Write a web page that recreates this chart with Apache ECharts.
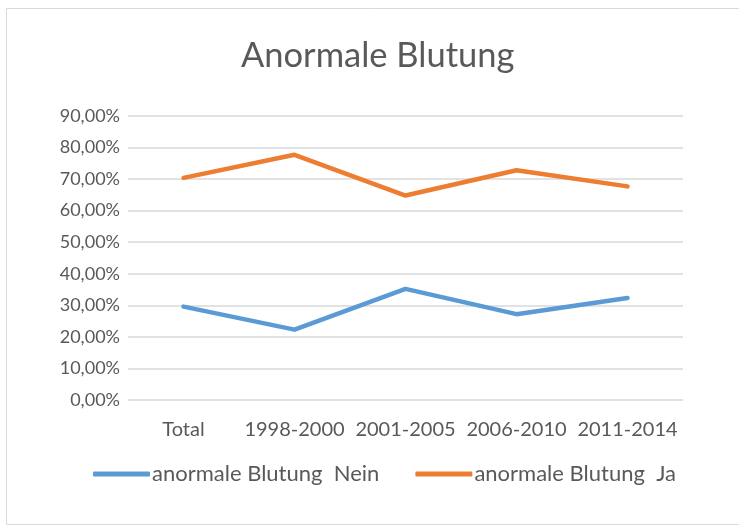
<!DOCTYPE html>
<html>
<head>
<meta charset="utf-8">
<script src="https://cdn.jsdelivr.net/npm/echarts@6/dist/echarts.min.js"></script>
<style>
  html, body { margin: 0; padding: 0; background: #fff; }
  #chart { width: 739px; height: 530px; }
</style>
</head>
<body>
<div id="chart"></div>
<script>
// Daten
var categories = ["Total", "1998-2000", "2001-2005", "2006-2010", "2011-2014"];
var nein = [29.6, 22.3, 35.2, 27.2, 32.3];
var ja = [70.4, 77.7, 64.8, 72.8, 67.7];
var seriesNames = ["anormale Blutung  Nein", "anormale Blutung  Ja"];

var textColor = "#595959";
var font = "Lato, 'Open Sans', sans-serif";

var chart = echarts.init(document.getElementById("chart"));
chart.setOption({
  animation: false,
  color: ["#5B9BD5", "#ED7D31"],
  graphic: [
    {
      type: "rect",
      shape: { x: 6.5, y: 8.5, width: 740, height: 516 },
      style: { fill: "none", stroke: "#d9d9d9", lineWidth: 1 },
    },
  ],
  title: {
    text: "Anormale Blutung",
    left: 236,
    top: 33,
    textStyle: {
      fontFamily: font,
      fontWeight: "normal",
      fontSize: 34.5,
      color: textColor,
    },
  },
  legend: {
    data: seriesNames,
    bottom: 40,
    left: 88,
    icon: "roundRect",
    itemWidth: 57,
    itemHeight: 5,
    itemGap: 36,
    textStyle: { fontFamily: font, fontSize: 22, color: textColor, padding: [0, 0, 0, -3] },
  },
  grid: {
    left: 128,
    right: 56,
    top: 116,
    bottom: 130,
  },
  xAxis: {
    type: "category",
    data: categories,
    boundaryGap: true,
    axisLine: { show: false },
    axisTick: { show: false },
    axisLabel: {
      fontFamily: font,
      fontSize: 20,
      color: textColor,
      margin: 20,
      interval: 0,
    },
  },
  yAxis: {
    type: "value",
    min: 0,
    max: 90,
    interval: 10,
    axisLine: { show: false },
    axisTick: { show: false },
    splitLine: { lineStyle: { color: "#d9d9d9", width: 1.5 } },
    axisLabel: {
      fontFamily: font,
      fontSize: 18,
      color: textColor,
      margin: 8,
      formatter: function (v) {
        return v.toFixed(2).replace(".", ",") + "%";
      },
    },
  },
  series: [
    {
      name: seriesNames[0],
      type: "line",
      data: nein,
      symbol: "none",
      lineStyle: { width: 4.5, cap: "round", join: "round" },
    },
    {
      name: seriesNames[1],
      type: "line",
      data: ja,
      symbol: "none",
      lineStyle: { width: 4.5, cap: "round", join: "round" },
    },
  ],
});
</script>
</body>
</html>
